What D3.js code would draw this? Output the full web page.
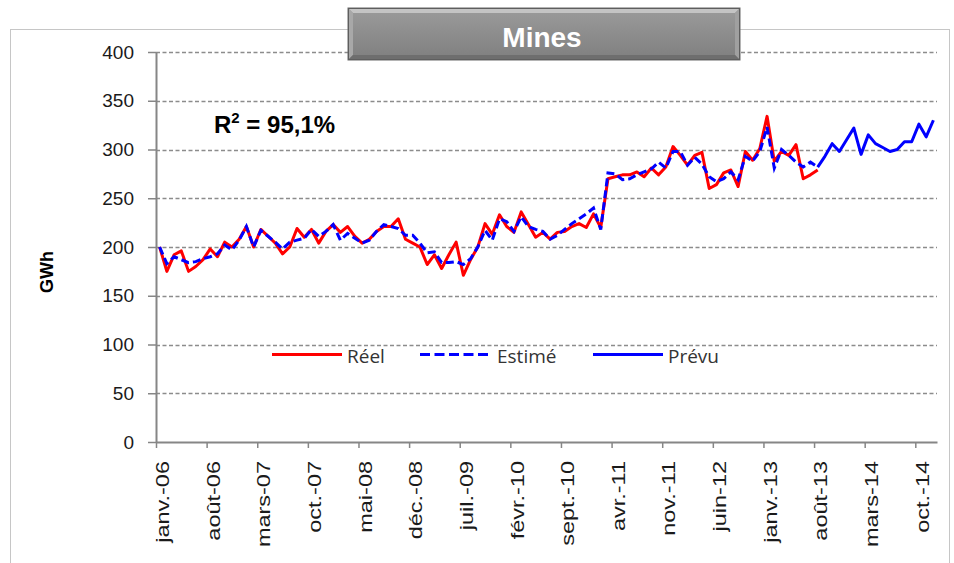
<!DOCTYPE html>
<html>
<head>
<meta charset="utf-8">
<script src="https://cdn.jsdelivr.net/npm/d3@7"></script>
<style>
  body { margin: 0; background: #fff; }
  svg { display: block; }
</style>
</head>
<body>
<div id="chart"></div>
<script>
// monthly GWh, index 0 = janv.-06
const reel = [200,175,192,196,175,180,187,198,190,205,
  200,208,221,200,218,211,204,193,200,219,
  210,218,204,216,223,215,221,211,204,208,
  216,221,221,229,208,204,200,182,192,178,
  192,205,171,187,200,224,213,233,221,215,
  236,223,210,215,208,215,216,221,224,220,
  234,220,270,272,274,274,277,272,281,274,
  282,303,294,284,294,297,260,264,276,279,
  262,298,289,301,334,288,298,294,305,270,
  274,279]

const estime = [200,183,190,187,184,185,188,190,193,202,
  197,207,221,200,217,211,205,198,205,207,
  209,218,211,216,223,207,214,209,204,207,
  216,223,221,219,212,212,204,194,195,184,
  184,185,182,188,200,217,207,229,226,216,
  231,221,218,216,208,212,218,224,229,234,
  240,218,276,275,269,270,274,277,280,287,
  281,298,298,284,292,285,272,267,270,277,
  269,293,288,298,323,281,300,294,287,282,
  287,282]

// forecast starts at août-13 (index 91)
const prevuStart = 91
const prevu = [282,293,306,298,310,322,295,315,306,302,298,300,308,308,326,313,330]

const tickMonths = [0,7,14,21,28,35,42,49,56,63,70,77,84,91,98,105]
const tickLabels = ["janv.-06","août-06","mars-07","oct.-07","mai-08","déc.-08","juil.-09","févr.-10",
  "sept.-10","avr.-11","nov.-11","juin-12","janv.-13","août-13","mars-14","oct.-14"]
const yTicks = [0,50,100,150,200,250,300,350,400]
const legendLabels = ["Réel","Estimé","Prévu"]

const W = 954, H = 563

const svg = d3.select("#chart").append("svg")
    .attr("width", W)
    .attr("height", H)

const x = d3.scaleLinear().domain([0, 108]).range([156, 937])
const y = d3.scaleLinear().domain([0, 400]).range([442, 52])

// outer frame
svg.append("rect")
    .attr("x", 10.5).attr("y", 29.5)
    .attr("width", 939).attr("height", 600)
    .attr("fill", "none")
    .attr("stroke", "#c6c6c6")

// gridlines
svg.append("g")
  .selectAll("line")
  .data(yTicks.filter(d => d > 0))
  .join("line")
    .attr("x1", x(0)).attr("x2", x(108))
    .attr("y1", d => Math.round(y(d)) + 0.5)
    .attr("y2", d => Math.round(y(d)) + 0.5)
    .attr("stroke", "#8c8c8c")
    .attr("stroke-width", 1.5)
    .attr("stroke-dasharray", "4,2.5")

// y axis
const yAxis = svg.append("g")
    .attr("transform", `translate(${x(0)},0)`)
    .call(d3.axisLeft(y).tickValues(yTicks).tickSize(8).tickSizeOuter(0).tickPadding(14))
yAxis.select(".domain").attr("stroke", "#868686").attr("stroke-width", 2)
yAxis.selectAll(".tick line").attr("stroke", "#868686").attr("stroke-width", 1.5)
yAxis.selectAll(".tick text")
    .attr("font-family", "Liberation Sans, Arial, sans-serif")
    .attr("font-size", 19)
    .attr("fill", "#1a1a1a")

// x axis
const xAxis = svg.append("g")
    .attr("transform", `translate(0,${y(0)})`)
    .call(d3.axisBottom(x).tickValues(tickMonths).tickSize(6).tickSizeOuter(0)
      .tickFormat((d, i) => tickLabels[i]))
xAxis.select(".domain").attr("stroke", "#868686").attr("stroke-width", 2)
xAxis.selectAll(".tick line").attr("stroke", "#868686").attr("stroke-width", 1.5)
xAxis.selectAll(".tick text")
    .attr("font-family", "Liberation Sans, Arial, sans-serif")
    .attr("font-size", 23.5)
    .attr("fill", "#1a1a1a")
    .attr("text-anchor", "end")
    .attr("x", 0).attr("y", 0)
    .attr("dy", "0.35em")
    .attr("transform", "translate(6,19) rotate(-90) scale(1,0.82)")

// axis title
svg.append("text")
    .attr("transform", "translate(47,272) rotate(-90)")
    .attr("text-anchor", "middle")
    .attr("dy", "0.35em")
    .attr("font-family", "Liberation Sans, Arial, sans-serif")
    .attr("font-weight", "bold")
    .attr("font-size", 18)
    .attr("fill", "#000")
    .text("GWh")

// series
const line = start => d3.line()
    .x((d, i) => x(start + i + 0.5))
    .y(d => y(d))

svg.append("path")
    .attr("d", line(0)(reel))
    .attr("fill", "none")
    .attr("stroke", "#ff0000")
    .attr("stroke-width", 3)
    .attr("stroke-linejoin", "round")

svg.append("path")
    .attr("d", line(0)(estime))
    .attr("fill", "none")
    .attr("stroke", "#0000ff")
    .attr("stroke-width", 3)
    .attr("stroke-dasharray", "8,4")

svg.append("path")
    .attr("d", line(prevuStart)(prevu))
    .attr("fill", "none")
    .attr("stroke", "#0000ff")
    .attr("stroke-width", 3)
    .attr("stroke-linejoin", "round")

// R² note
const r2 = svg.append("text")
    .attr("x", 214).attr("y", 133)
    .attr("font-family", "Liberation Sans, Arial, sans-serif")
    .attr("font-weight", "bold")
    .attr("font-size", 24)
    .attr("fill", "#000")
r2.append("tspan").text("R")
r2.append("tspan").attr("font-size", 15).attr("dy", -10).text("2")
r2.append("tspan").attr("dy", 10).text(" = 95,1%")

// legend
const legendX = [272, 420, 593]
const legendTextX = [347, 497, 668]
const legend = svg.append("g")
legendLabels.forEach((lab, i) => {
  legend.append("line")
      .attr("x1", legendX[i]).attr("x2", legendX[i] + 70)
      .attr("y1", 354.5).attr("y2", 354.5)
      .attr("stroke", i === 0 ? "#ff0000" : "#0000ff")
      .attr("stroke-width", 3)
      .attr("stroke-dasharray", i === 1 ? "10,4.5" : null)
  legend.append("text")
      .attr("x", legendTextX[i]).attr("y", 363)
      .attr("font-family", "Open Sans, sans-serif")
      .attr("font-size", 19)
      .attr("fill", "#333")
      .text(lab)
})

// title box
const defs = svg.append("defs")
const grad = defs.append("linearGradient")
    .attr("id", "titleGrad").attr("x1", 0).attr("x2", 0).attr("y1", 0).attr("y2", 1)
grad.append("stop").attr("offset", 0).attr("stop-color", "#9b9b9b")
grad.append("stop").attr("offset", 1).attr("stop-color", "#7f7f7f")

const tb = {x: 348, y: 8, w: 392, h: 52}
svg.append("rect")
    .attr("x", tb.x).attr("y", tb.y).attr("width", tb.w).attr("height", tb.h)
    .attr("fill", "url(#titleGrad)")
    .attr("stroke", "#6a6a6a")
// bevel
svg.append("path")
    .attr("d", `M${tb.x},${tb.y}H${tb.x + tb.w}L${tb.x + tb.w - 5},${tb.y + 5}H${tb.x + 5}Z`)
    .attr("fill", "#c4c4c4")
svg.append("path")
    .attr("d", `M${tb.x},${tb.y}L${tb.x + 5},${tb.y + 5}V${tb.y + tb.h - 5}L${tb.x},${tb.y + tb.h}Z`)
    .attr("fill", "#a8a8a8")
svg.append("path")
    .attr("d", `M${tb.x + tb.w},${tb.y}L${tb.x + tb.w - 5},${tb.y + 5}V${tb.y + tb.h - 5}L${tb.x + tb.w},${tb.y + tb.h}Z`)
    .attr("fill", "#a0a0a0")
svg.append("path")
    .attr("d", `M${tb.x},${tb.y + tb.h}L${tb.x + 5},${tb.y + tb.h - 5}H${tb.x + tb.w - 5}L${tb.x + tb.w},${tb.y + tb.h}Z`)
    .attr("fill", "#6e6e6e")
svg.append("rect")
    .attr("x", tb.x + 0.5).attr("y", tb.y + 0.5).attr("width", tb.w - 1).attr("height", tb.h - 1)
    .attr("fill", "none")
    .attr("stroke", "#5e5e5e")

svg.append("text")
    .attr("x", tb.x + tb.w / 2 - 2).attr("y", 47)
    .attr("text-anchor", "middle")
    .attr("font-family", "Liberation Sans, Arial, sans-serif")
    .attr("font-weight", "bold")
    .attr("font-size", 28)
    .attr("fill", "#fff")
    .text("Mines")
</script>
</body>
</html>
